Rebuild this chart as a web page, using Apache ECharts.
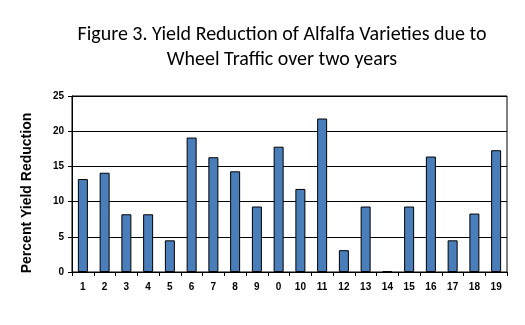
<!DOCTYPE html>
<html>
<head>
<meta charset="utf-8">
<script src="https://cdn.jsdelivr.net/npm/echarts@6/dist/echarts.min.js"></script>
<style>
  html, body { margin: 0; padding: 0; background: #fff; }
  #chart { width: 525px; height: 325px; }
</style>
</head>
<body>
<div id="chart"></div>
<script>
// Alfalfa varieties (as labelled on the axis) and their yield reduction in percent
const varieties = ['1', '2', '3', '4', '5', '6', '7', '8', '9', '0', '10', '11', '12', '13', '14', '15', '16', '17', '18', '19'];
const yieldReduction = [13.2, 14.1, 8.2, 8.2, 4.5, 19.1, 16.3, 14.3, 9.3, 17.8, 11.8, 21.8, 3.1, 9.3, 0.1, 9.3, 16.4, 4.5, 8.3, 17.3];
const yTicks = [0, 5, 10, 15, 20, 25];

const chart = echarts.init(document.getElementById('chart'), null, { renderer: 'canvas' });

const labelFont = { fontFamily: 'Liberation Sans, Arial, sans-serif', fontWeight: 'bold', fontSize: 10, color: '#000' };

chart.setOption({
  animation: false,
  backgroundColor: '#fff',
  title: {
    text: 'Figure 3. Yield Reduction of Alfalfa Varieties due to\nWheel Traffic over two years',
    left: 277,
    top: 17,
    textAlign: 'center',
    textStyle: { fontFamily: 'Carlito, Lato, Open Sans, sans-serif', fontWeight: 'normal', fontSize: 20, lineHeight: 25, color: '#000' }
  },
  graphic: [{
    type: 'text',
    x: 27,
    y: 193,
    rotation: Math.PI / 2,
    style: {
      text: 'Percent Yield Reduction',
      font: 'bold 14px "Liberation Sans", Arial, sans-serif',
      fill: '#000',
      textAlign: 'center',
      textVerticalAlign: 'middle'
    }
  }],
  grid: { left: 72, right: 18, top: 96, bottom: 53, show: true, borderColor: '#000', borderWidth: 1 },
  xAxis: {
    type: 'category',
    data: varieties,
    axisLine: { lineStyle: { color: '#000', width: 1 } },
    axisTick: { show: true, length: 4, lineStyle: { color: '#000' } },
    axisLabel: Object.assign({ margin: 10, interval: 0 }, labelFont)
  },
  yAxis: {
    type: 'value',
    min: yTicks[0],
    max: yTicks[yTicks.length - 1],
    interval: 5,
    axisLine: { show: true, lineStyle: { color: '#000', width: 1 } },
    axisTick: { show: true, length: 4, lineStyle: { color: '#000' } },
    axisLabel: Object.assign({ margin: 8 }, labelFont),
    splitLine: { show: true, lineStyle: { color: '#000', width: 1 } }
  },
  series: [{
    type: 'bar',
    data: yieldReduction,
    barWidth: 10,
    itemStyle: { color: '#4a7ebb', borderColor: '#000', borderWidth: 1 }
  }]
});
</script>
</body>
</html>
